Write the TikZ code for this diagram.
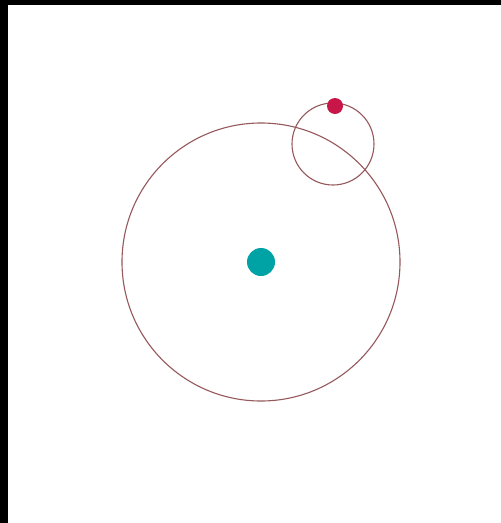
\documentclass[tikz,border=0pt]{standalone}
\begin{document}
\begin{tikzpicture}[
    x=1pt, y=-1pt, every node/.style={scale=1.0}
]

% Define colors
\definecolor{orbitline}{RGB}{150,88,92}
\definecolor{suncolor}{RGB}{0,163,165}
\definecolor{mooncolor}{RGB}{200,22,72}

% Canvas and frame
\useasboundingbox (0,0) rectangle (501,523);
\fill[white] (0,0) rectangle (501,523);
\fill[black] (0,0) rectangle (8,523);
\fill[black] (0,0) rectangle (501,5);

% Centres
\coordinate (sun) at (261,262);
\coordinate (planet) at (333,144);

% Large orbit
\draw[orbitline, line width=1.1pt] (sun) circle (139);

% Small orbit
\draw[orbitline, line width=1.1pt] (planet) circle (41);

% Bodies
\fill[suncolor] (sun) circle (14);
\fill[mooncolor] (335,106) circle (8);

\end{tikzpicture}
\end{document}
